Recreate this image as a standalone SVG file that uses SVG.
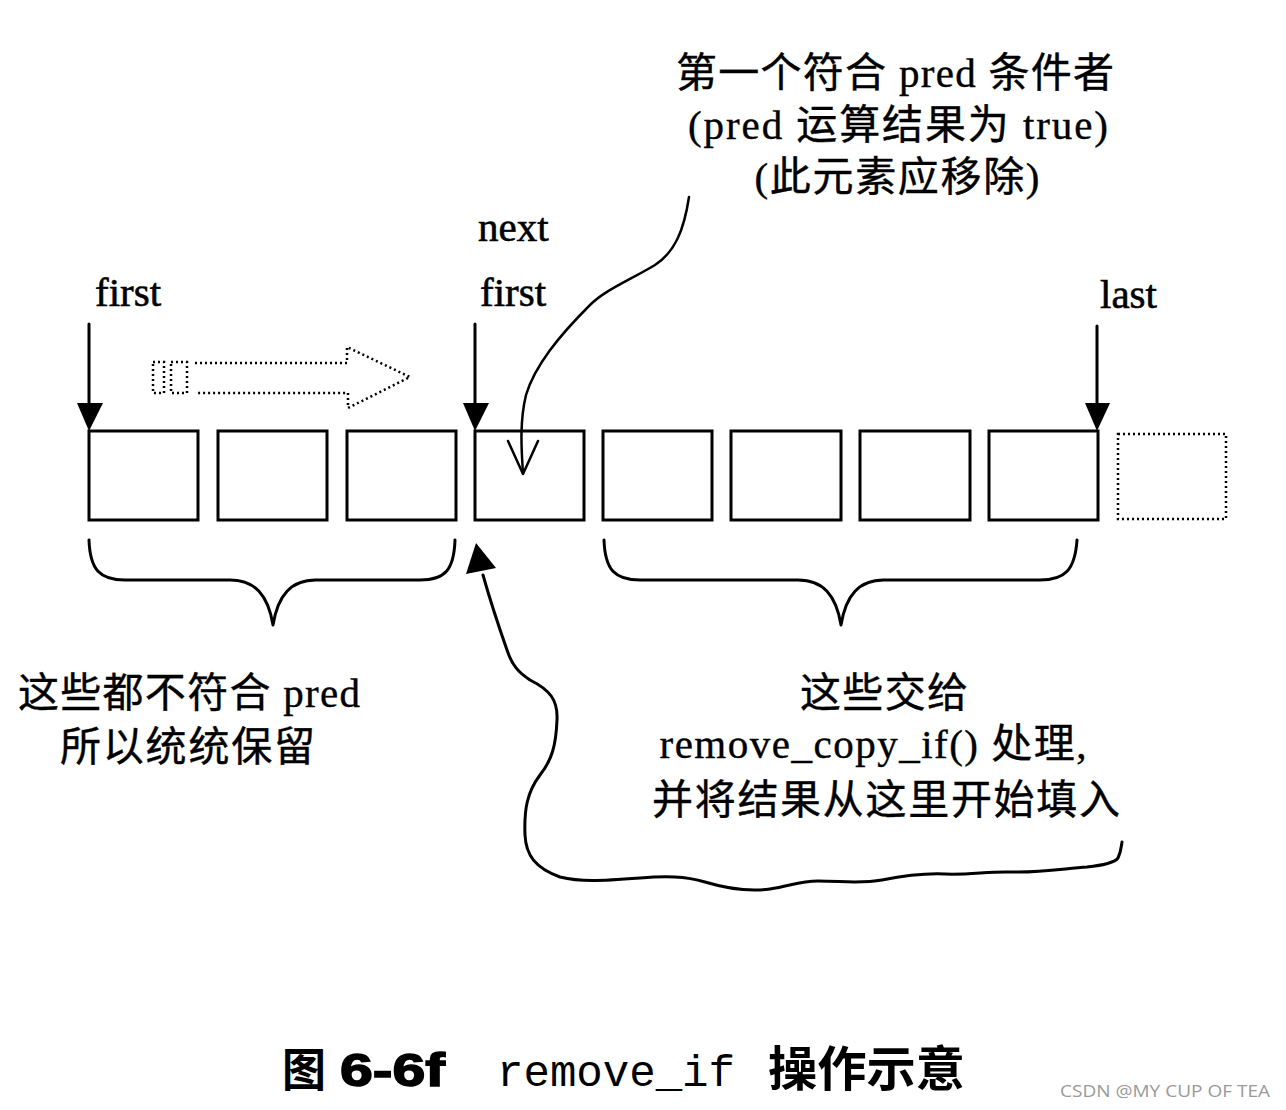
<svg xmlns="http://www.w3.org/2000/svg" width="1286" height="1110" viewBox="0 0 1286 1110">
<style>
.box{fill:none;stroke:#000;stroke-width:3}
.dot{fill:none;stroke:#000;stroke-width:2.5;stroke-dasharray:2 3}
.ln{fill:none;stroke:#000;stroke-width:3;stroke-linecap:round;stroke-linejoin:round}
.thin{fill:none;stroke:#000;stroke-width:2.5;stroke-linecap:round;stroke-linejoin:round}
.lat{font-family:"Liberation Serif","Noto Sans CJK SC",serif;font-size:41px;fill:#000;stroke:#000;stroke-width:0.6}
.cn{font-family:"Liberation Serif","Noto Sans CJK SC",serif;font-size:41px;fill:#000;stroke:#000;stroke-width:0.4}
</style>
<rect width="1286" height="1110" fill="#fff"/>

<g id="cells">
<rect class="box" x="89" y="431" width="109" height="89"/>
<rect class="box" x="218" y="431" width="109" height="89"/>
<rect class="box" x="347" y="431" width="109" height="89"/>
<rect class="box" x="475" y="431" width="109" height="89"/>
<rect class="box" x="603" y="431" width="109" height="89"/>
<rect class="box" x="731" y="431" width="110" height="89"/>
<rect class="box" x="860" y="431" width="110" height="89"/>
<rect class="box" x="989" y="431" width="109" height="89"/>
<rect class="dot" x="1118" y="434" width="108" height="85"/>
</g>

<g id="labels">
<text class="lat" x="95" y="306">first</text>
<text class="lat" x="478" y="241">next</text>
<text class="lat" x="480" y="306">first</text>
<text class="lat" x="1100" y="308">last</text>
<text class="cn" x="895" y="87" text-anchor="middle" textLength="438" lengthAdjust="spacing">第一个符合 pred 条件者</text>
<text class="cn" x="898" y="139" text-anchor="middle" textLength="420" lengthAdjust="spacing">(pred 运算结果为 true)</text>
<text class="cn" x="897" y="191" text-anchor="middle" textLength="285" lengthAdjust="spacing">(此元素应移除)</text>
<text class="cn" x="18" y="707" textLength="342" lengthAdjust="spacing">这些都不符合 pred</text>
<text class="cn" x="60" y="761" textLength="255" lengthAdjust="spacing">所以统统保留</text>
<text class="cn" x="884" y="707" text-anchor="middle" textLength="168" lengthAdjust="spacing">这些交给</text>
<text class="cn" x="873" y="758" text-anchor="middle" textLength="427" lengthAdjust="spacing">remove_copy_if() 处理,</text>
<text class="cn" x="886" y="814" text-anchor="middle" textLength="468" lengthAdjust="spacing">并将结果从这里开始填入</text>
</g>

<g id="caption">
<text x="282" y="1086" font-family="Noto Sans CJK SC,sans-serif" font-size="46" font-weight="bold" textLength="44" lengthAdjust="spacingAndGlyphs">图</text>
<text x="340" y="1086" font-family="Liberation Sans,Arial,sans-serif" font-size="46" font-weight="bold" stroke="#000" stroke-width="1.5" textLength="105" lengthAdjust="spacingAndGlyphs">6-6f</text>
<text x="497" y="1086" font-family="Liberation Mono,monospace" font-size="44" textLength="238" lengthAdjust="spacingAndGlyphs">remove_if</text>
<text x="768" y="1086" font-family="Noto Sans CJK SC,sans-serif" font-size="48" font-weight="bold" textLength="197" lengthAdjust="spacingAndGlyphs">操作示意</text>
</g>

<g id="watermark">
<text x="1060" y="1097" font-family="Open Sans,Noto Sans,sans-serif" font-size="17" fill="#9a9a9a" textLength="210" lengthAdjust="spacingAndGlyphs">CSDN @MY CUP OF TEA</text>
</g>

<g id="connectors">
<line class="ln" x1="89" y1="324" x2="89" y2="410"/>
<polygon points="77,403 103,403 89,431" fill="#000"/>
<line class="ln" x1="475" y1="324" x2="475" y2="410"/>
<polygon points="463,403 489,403 475,431" fill="#000"/>
<line class="ln" x1="1097" y1="326" x2="1097" y2="410"/>
<polygon points="1085,403 1110,403 1097,431" fill="#000"/>

<g class="dot">
<rect x="153" y="362" width="11" height="31"/>
<rect x="171" y="362" width="16" height="31"/>
<polyline points="195,363 347,363 347,347 410,377 348,408 348,393 195,393"/>
</g>

<path class="thin" d="M689,197 C684,230 675,252 655,265 C630,280 605,290 590,305 C560,335 535,365 526,395 C520,420 521,445 523,473"/>
<polyline class="thin" points="508,441 523,474 538,441"/>

<path class="ln" d="M89,540 C90,570 100,580 125,580 L230,580 C255,580 268,595 273,625 C278,595 291,580 316,580 L420,580 C445,580 454,570 455,540"/>
<path class="ln" d="M604,540 C605,570 615,580 640,580 L798,580 C823,580 836,595 841,625 C846,595 859,580 884,580 L1040,580 C1065,580 1075,570 1077,540"/>

<path class="ln" d="M483,575 C490,600 500,630 507,650 C512,665 518,672 530,680 C550,690 558,700 557,720 C556,745 552,760 540,775 C527,792 524,810 525,835 C526,855 535,868 560,877 C580,882 600,881 640,878 C665,876 685,876 705,882 C725,888 748,892 770,889 C790,886 800,881 818,881 C842,881 860,884 882,880 C902,876 922,873 945,874 C970,875 990,871 1012,872 C1037,873 1062,869 1087,867 C1106,865 1115,862 1118,858 C1121,852 1121,848 1122,842"/>
<polygon points="476,543 466,574 496,568" fill="#000"/>
</g>
</svg>
